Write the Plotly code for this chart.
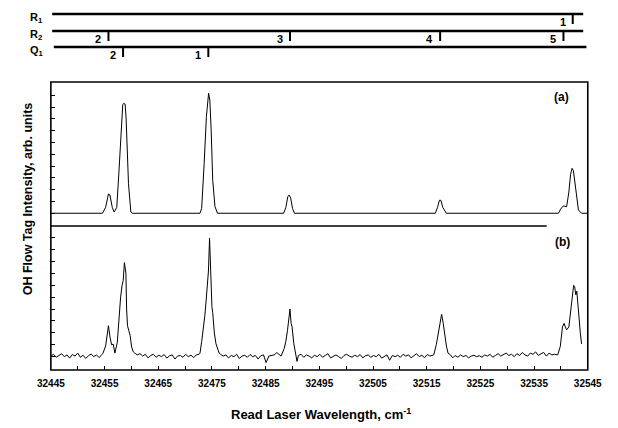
import plotly.graph_objects as go

W, H = 618, 428
FONT = "Liberation Sans"

# ---------------- axis data ----------------
X_MIN, X_MAX = 32445, 32545
X_TICKS = [32445, 32455, 32465, 32475, 32485, 32495, 32505, 32515, 32525, 32535, 32545]
X_MINOR = [32450, 32460, 32470, 32480, 32490, 32500, 32510, 32520, 32530, 32540]
Y_TICKS = [0, 1, 2, 3, 4, 5, 6, 7, 8, 9, 10]
X_TITLE = "Read Laser Wavelength, cm<sup>-1</sup>"
Y_TITLE = "OH Flow Tag Intensity, arb. units"
PANEL_LABELS = ["(a)", "(b)"]

# ---------------- assignment combs ----------------
BRANCH_NAMES = ["R<sub>1</sub>", "R<sub>2</sub>", "Q<sub>1</sub>"]
BRANCH_START = [32445.25, 32445.25, 32445.55]
BRANCH_END = [32544.15, 32544.15, 32544.75]
R1_POS = [32542.2]
R1_LAB = ["1"]
R2_POS = [32455.73, 32489.54, 32517.5, 32540.47]
R2_LAB = ["2", "3", "4", "5"]
Q1_POS = [32458.45, 32474.33]
Q1_LAB = ["2", "1"]

# ---------------- spectrum (a): simulated ----------------
A_X = [32445.0, 32454.61, 32455.20, 32455.46, 32455.73, 32456.00, 32456.44, 32456.80,
       32457.28, 32457.68, 32458.04, 32458.39, 32458.57, 32458.84, 32459.02, 32459.19,
       32459.46, 32459.90, 32460.17,
       32472.78, 32473.09, 32473.55, 32473.97, 32474.38, 32474.61, 32474.86, 32475.15,
       32475.57, 32476.04,
       32488.36, 32488.77, 32489.13, 32489.39, 32489.66, 32490.02, 32490.37,
       32516.61, 32517.02, 32517.37, 32517.64, 32518.00, 32518.67,
       32539.53, 32539.94, 32540.42, 32541.06, 32541.48, 32541.80, 32542.07, 32542.33,
       32542.65, 32542.96, 32543.26, 32543.85, 32545.0]
A_Y = [0, 0, 0.5, 1.2, 1.64, 1.55, 0.5, 0.1,
       0.5, 3.5, 6.5, 9.2, 9.32, 9.25, 8.0, 5.0,
       2.5, 0.1, 0,
       0, 0.42, 4.2, 8.2, 10.17, 9.6, 7.06, 2.8,
       0.56, 0,
       0, 0.5, 1.4, 1.55, 1.3, 0.4, 0,
       0, 0.5, 1.1, 1.1, 0.5, 0,
       0, 0.35, 0.62, 0.55, 1.8, 3.3, 3.81, 3.6,
       2.6, 1.2, 0.28, 0, 0]

# ---------------- spectrum (b): measured ----------------
NOISE_STEP = 0.5
B_SEG1_START = 32445.0
B_SEG1 = [0.05, 0.2, -0.05, 0.1, 0.25, 0.0, 0.15, -0.12, 0.18, 0.05,
          0.3, -0.05, 0.12, -0.15, 0.08, 0.22, 0.0, 0.15, -0.08, 0.18]
B_PK1_X = [32454.72, 32455.20, 32455.46, 32455.73, 32456.03, 32456.32, 32456.62, 32456.92,
           32457.38, 32457.68, 32457.99, 32458.27, 32458.48, 32458.70, 32458.84, 32458.98,
           32459.11, 32459.28, 32459.51, 32459.76, 32460.05, 32460.35]
B_PK1_Y = [0.3, 0.9, 1.8, 2.6, 1.6, 1.0, 1.05, 0.3,
           1.2, 3.2, 5.0, 6.0, 6.4, 7.9, 7.3, 7.0,
           4.0, 2.6, 2.2, 1.8, 0.8, 0.4]
B_SEG2_START = 32460.6
B_SEG2 = [0.3, 0.15, 0.25, 0.05, 0.2, -0.1, 0.1, 0.2, -0.05, 0.12,
          0.0, 0.18, -0.12, 0.08, 0.15, -0.2, 0.05, 0.1, -0.05, 0.2,
          0.0, 0.12, -0.08, 0.15, 0.2]
B_PK2_X = [32472.78, 32473.09, 32473.37, 32473.67, 32473.90, 32474.15, 32474.35, 32474.56,
           32474.70, 32474.86, 32475.00, 32475.15, 32475.45, 32475.75, 32476.04, 32476.34]
B_PK2_Y = [0.3, 1.26, 2.2, 3.4, 4.6, 6.0, 7.2, 9.95,
           8.0, 5.9, 4.2, 3.7, 2.0, 1.1, 0.6, 0.3]
B_SEG3_START = 32476.6
B_SEG3 = [0.2, 0.05, 0.15, -0.1, 0.1, 0.0, 0.2, -0.15, 0.05, 0.12,
          -0.05, 0.18, 0.0, 0.1, -0.2, 0.08, 0.15, -0.5, 0.05, 0.1,
          0.15, 0.34, 0.1]
B_PK3_X = [32487.88, 32488.47, 32488.77, 32489.07, 32489.31, 32489.54, 32489.75, 32489.93,
           32490.25, 32490.55, 32490.85]
B_PK3_Y = [0.05, 0.7, 1.3, 2.2, 3.0, 4.0, 2.8, 2.5, 1.1, 0.4, -0.4]
B_SEG4_START = 32491.1
B_SEG4 = [0.1, 0.2, -0.05, 0.15, 0.05, -0.1, 0.12, 0.0, 0.2, -0.05,
          0.1, 0.25, -0.1, 0.05, 0.15, 0.0, -0.15, 0.1, 0.2, 0.05,
          -0.05, 0.12, 0.0, 0.18, -0.1, 0.08, 0.15, -0.05, 0.1, 0.0,
          0.2, -0.12, 0.05, 0.15, -0.3, 0.1, 0.0, 0.12, -0.05, 0.2,
          0.05, 0.15, -0.1, 0.1, 0.25, 0.0, 0.12, -0.08, 0.18, 0.05,
          0.1]
B_PK4_X = [32516.31, 32516.79, 32517.20, 32517.50, 32517.78, 32518.08, 32518.39, 32518.67,
           32518.97, 32519.42, 32519.86]
B_PK4_Y = [0.15, 1.0, 2.2, 2.9, 3.56, 2.8, 1.5, 0.9, 0.3, 0.15, -0.1]
B_SEG5_START = 32520.3
B_SEG5 = [0.1, -0.05, 0.15, 0.0, 0.1, -0.1, 0.05, 0.12, 0.0, 0.08,
          -0.05, 0.15, 0.05, 0.2, -0.05, 0.1, 0.25, 0.05, 0.15, 0.3,
          0.1, 0.2, 0.0, 0.25, 0.1, 0.35, 0.15, 0.05, 0.3, 0.2,
          0.4, 0.1, 0.25, 0.35, 0.05, 0.3, 0.15, 0.2]
B_PK5_X = [32539.40, 32539.88, 32540.29, 32540.59, 32540.82, 32541.06, 32541.48, 32541.94,
           32542.19, 32542.37, 32542.55, 32542.78, 32542.96, 32543.17, 32543.36, 32543.61,
           32543.85]
B_PK5_Y = [0.15, 0.85, 2.5, 2.8, 2.5, 2.25, 2.5, 4.5,
           5.6, 6.0, 5.9, 5.2, 5.5, 4.2, 3.1, 2.0,
           1.07]

# ---------------- assemble (b) ----------------
pts = []
for start, vals in [(B_SEG1_START, B_SEG1), (B_SEG2_START, B_SEG2), (B_SEG3_START, B_SEG3),
                    (B_SEG4_START, B_SEG4), (B_SEG5_START, B_SEG5)]:
    pts += [(start + NOISE_STEP * i, v) for i, v in enumerate(vals)]
for xs, ys in [(B_PK1_X, B_PK1_Y), (B_PK2_X, B_PK2_Y), (B_PK3_X, B_PK3_Y),
               (B_PK4_X, B_PK4_Y), (B_PK5_X, B_PK5_Y)]:
    pts += list(zip(xs, ys))
pts.sort()
B_X = [p[0] for p in pts]
B_Y = [p[1] for p in pts]

# ---------------- layout geometry (pixels) ----------------
PL, PR = 38.6, 601.0
TOP_A, MID, BOT_B = 82.0, 226.0, 370.0
SEP_END = 558.0
ROW_Y = [14, 31, 47]
COMB_TICK = 10
COMB_H = 62


def fx(px):
    return px / W


def fy(py):
    return 1 - py / H


fig = go.Figure()

LINE = dict(color="black", width=1)
fig.add_trace(go.Scatter(x=A_X, y=A_Y, xaxis="x", yaxis="y", mode="lines", line=LINE,
                         hoverinfo="skip"))
fig.add_trace(go.Scatter(x=B_X, y=B_Y, xaxis="x", yaxis="y2", mode="lines", line=LINE,
                         hoverinfo="skip"))

# combs
annotations = []
for name, x0, x1, ry, (pos, labs) in zip(BRANCH_NAMES, BRANCH_START, BRANCH_END, ROW_Y,
                                          [(R1_POS, R1_LAB), (R2_POS, R2_LAB), (Q1_POS, Q1_LAB)]):
    fig.add_trace(go.Scatter(x=[x0, x1], y=[ry, ry], xaxis="x2", yaxis="y3", mode="lines",
                             line=dict(color="black", width=2.6), hoverinfo="skip"))
    tx, ty = [], []
    for p in pos:
        tx += [p, p, None]
        ty += [ry, ry + COMB_TICK, None]
    fig.add_trace(go.Scatter(x=tx, y=ty, xaxis="x2", yaxis="y3", mode="lines",
                             line=dict(color="black", width=2), hoverinfo="skip"))
    for p, lab in zip(pos, labs):
        annotations.append(dict(x=p, y=ry + 7.5, xref="x2", yref="y3", text="<b>%s</b>" % lab,
                                showarrow=False, xanchor="right", yanchor="middle", xshift=-5,
                                font=dict(family=FONT, size=11, color="black")))
    annotations.append(dict(x=fx(15), y=ry + 3.5, xref="paper", yref="y3",
                            text="<b>%s</b>" % name, showarrow=False, xanchor="left",
                            yanchor="middle", font=dict(family=FONT, size=11, color="black")))

annotations.append(dict(x=fx(573.3), y=fy(96.7), xref="paper", yref="paper",
                        xanchor="center", yanchor="middle",
                        text="<b>%s</b>" % PANEL_LABELS[0], showarrow=False,
                        font=dict(family=FONT, size=12, color="black")))
annotations.append(dict(x=fx(575), y=fy(241.7), xref="paper", yref="paper",
                        xanchor="center", yanchor="middle",
                        text="<b>%s</b>" % PANEL_LABELS[1], showarrow=False,
                        font=dict(family=FONT, size=12, color="black")))
annotations.append(dict(x=fx(322), y=fy(414), xref="paper", yref="paper",
                        xanchor="center", yanchor="middle",
                        text="<b>%s</b>" % X_TITLE, showarrow=False,
                        font=dict(family=FONT, size=13, color="black")))
annotations.append(dict(x=fx(15), y=fy(199), xref="paper", yref="paper",
                        xanchor="center", yanchor="middle",
                        text="<b>%s</b>" % Y_TITLE, showarrow=False, textangle=-90,
                        font=dict(family=FONT, size=12.5, color="black")))

shapes = [
    dict(type="rect", xref="paper", yref="paper", x0=fx(PL), x1=fx(PR), y0=fy(BOT_B), y1=fy(TOP_A),
         line=dict(color="black", width=1.6), layer="above"),
    dict(type="line", xref="paper", yref="paper", x0=fx(PL), x1=fx(SEP_END), y0=fy(MID), y1=fy(MID),
         line=dict(color="black", width=1.6), layer="above"),
]

ytick = dict(tickmode="array", tickvals=Y_TICKS, ticks="inside", ticklen=4, tickwidth=1,
             tickcolor="black", showticklabels=False, showgrid=False, zeroline=False,
             showline=False, anchor="x")

fig.update_layout(
    width=W, height=H, autosize=False,
    margin=dict(l=0, r=0, t=0, b=0),
    paper_bgcolor="white", plot_bgcolor="white",
    showlegend=False,
    xaxis=dict(domain=[fx(PL), fx(PR)], range=[X_MIN, X_MAX], anchor="y2",
               tickmode="array", tickvals=X_TICKS, ticktext=[str(v) for v in X_TICKS],
               ticks="inside", ticklen=4, tickwidth=1, tickcolor="black",
               minor=dict(tickmode="array", tickvals=X_MINOR, ticks="inside", ticklen=4,
                          tickwidth=1, tickcolor="black", showgrid=False),
               tickfont=dict(family=FONT, size=10, color="black", weight="bold"),
               ticklabelstandoff=6,
               showgrid=False, zeroline=False, showline=False),
    xaxis2=dict(domain=[fx(PL), fx(PR)], range=[X_MIN, X_MAX], anchor="y3", matches="x",
                visible=False),
    yaxis=dict(domain=[fy(MID), fy(TOP_A)], range=[-1.08, 11.13], **ytick),
    yaxis2=dict(domain=[fy(BOT_B), fy(MID)], range=[-1.12, 10.98], **ytick),
    yaxis3=dict(domain=[fy(COMB_H), 1], range=[COMB_H, 0], visible=False, anchor="x2"),
    annotations=annotations,
    shapes=shapes,
)

fig.write_html("out.html", config={"displayModeBar": False},
               post_script="document.body.style.margin='0';document.body.style.overflow='hidden';")
